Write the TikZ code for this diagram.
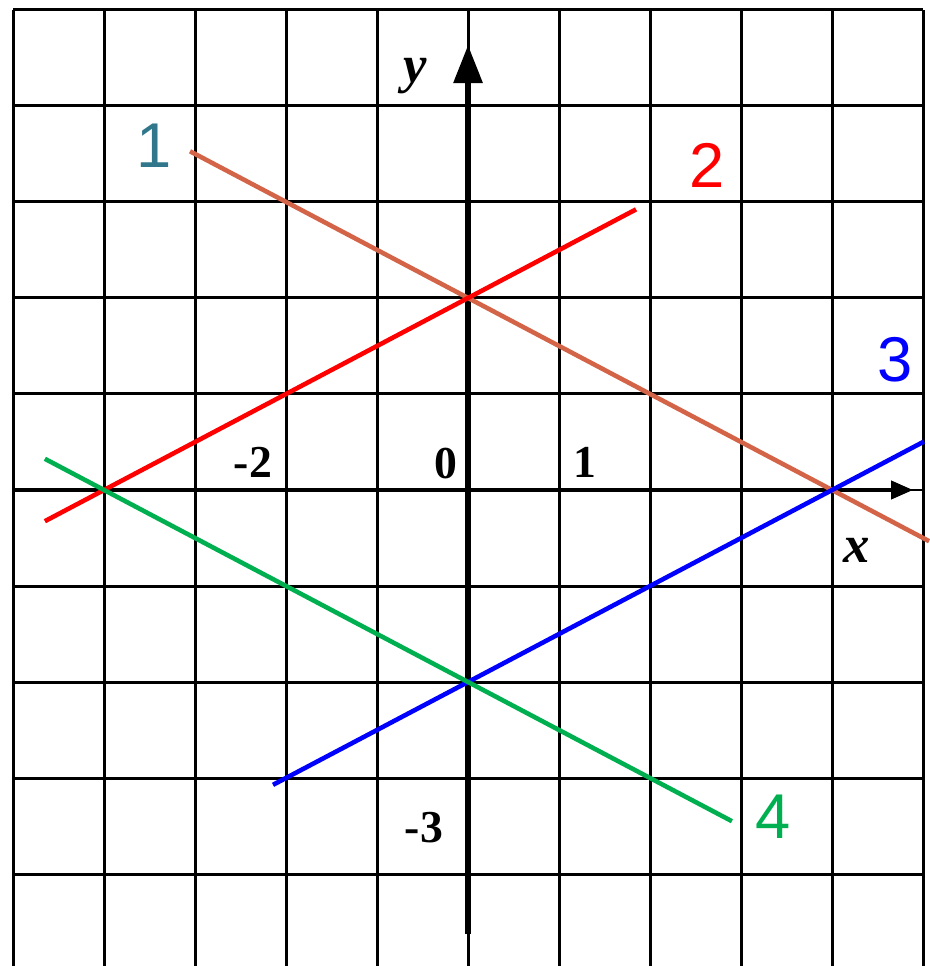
\documentclass[tikz,border=0pt]{standalone}
\usepackage{fontspec}
\setmainfont{Liberation Serif}
\newfontfamily\numfont{Liberation Sans}
\usepackage{xcolor}
\usepackage{tikz}
\usetikzlibrary{arrows.meta}
\definecolor{oneline}{RGB}{212,100,72}
\definecolor{onelbl}{RGB}{49,119,140}
\definecolor{twored}{RGB}{255,0,0}
\definecolor{threeblue}{RGB}{0,0,255}
\definecolor{fourgreen}{RGB}{0,176,80}

\begin{document}
\begin{tikzpicture}[x=0.91cm,y=0.96cm,
	gridline/.style={black,line width=0.85pt},
	graphline/.style={line width=1.3pt},
	linelbl/.style={font=\numfont\fontsize{18}{18}\selectfont,anchor=base},
	ticklbl/.style={font=\bfseries\fontsize{13}{13}\selectfont,anchor=base},
	axislbl/.style={font=\bfseries\itshape\fontsize{15}{15}\selectfont,anchor=base}]
				\useasboundingbox (-5.143,-4.958) rectangle (5.066,5.104);
				\pgfmathsetmacro{\xmin}{-5.143}
				\pgfmathsetmacro{\xmax}{5.066}
				% grid
				\foreach \x in {-5,...,5}{
					\draw[gridline] (\x,-5) -- (\x,5);
				}
				\foreach \y in {-4,...,5}{
					\draw[gridline] (-5,\y) -- (5,\y);
				}
				% axes
				\draw[line width=1.15pt,-{Triangle[length=0.22cm,width=0.18cm]}] (-4.99,0) -- (4.89,0);
				\draw[line width=1.7pt,-{Triangle[length=0.38cm,width=0.28cm]}] (0,-4.625) -- (0,4.635);
				\node[axislbl] (xlbl) at (4.275,-0.76) {x};
				\node[axislbl] (ylbl) at (-0.582,4.24) {y};
				% ticks
				\foreach \name/\xpos/\ypos/\lbl in {tminus2/-2.363/0.125/-2,tzero/-0.242/0.115/0,tone/1.286/0.125/1,tminus3/-0.484/-3.667/-3}{
					\node[ticklbl] (\name) at (\xpos,\ypos) {\lbl};
				}
				% lines 1 -- 4
				\draw[graphline,oneline] (-3.055,3.528) -- (\xmax,-0.533);
				\draw[graphline,twored] (-4.65,-0.325) -- (1.846,2.923);
				\draw[graphline,threeblue] (-2.143,-3.071) -- (5.011,0.505);
				\draw[graphline,fourgreen] (-4.65,0.325) -- (2.9,-3.45);
				% labels
				\node[linelbl,onelbl] (lblone) at (-3.451,3.354) {1};
				\node[linelbl,twored] (lbltwo) at (2.626,3.146) {2};
				\node[linelbl,threeblue] (lblthree) at (4.692,1.125) {3};
				\node[linelbl,fourgreen] (lblfour) at (3.352,-3.625) {4};
			\end{tikzpicture}
\end{document}
